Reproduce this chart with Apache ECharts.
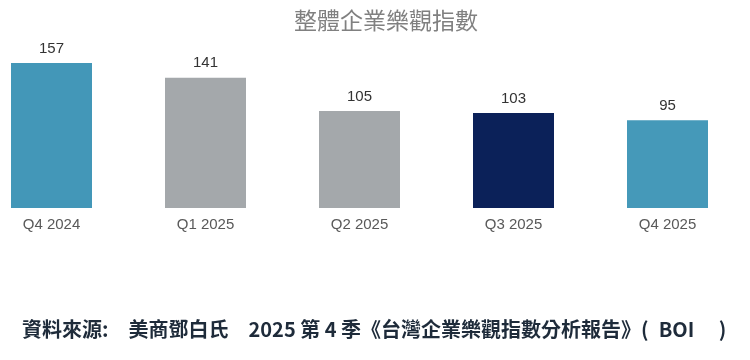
<!DOCTYPE html>
<html><head><meta charset="utf-8">
<script src="https://cdn.jsdelivr.net/npm/echarts@6/dist/echarts.min.js"></script>
<style>html,body{margin:0;padding:0;background:#fff}#c{width:750px;height:360px}</style>
</head><body><div id="c"></div>
<script>
const categories = ['Q4 2024','Q1 2025','Q2 2025','Q3 2025','Q4 2025'];
const values = [157,141,105,103,95];
const barColors = ['#4397b8','#a4a8ab','#a4a8ab','#0b2159','#4599b9'];
const titleText = '整體企業樂觀指數';
const sourceText = '資料來源:\u3000美商鄧白氏\u30002025 第 4 季《台灣企業樂觀指數分析報告》(\u2002BOI\u3000 )';

const chart = echarts.init(document.getElementById('c'));
chart.setOption({
  animation:false,
  title:[
    {text:titleText,left:381,top:4,textAlign:'center',textStyle:{color:'#808080',fontSize:23,fontWeight:'normal',fontFamily:'Noto Sans CJK TC'}},
    {text:sourceText,left:17,top:314,textStyle:{color:'#1e2b3a',fontSize:20,fontWeight:'bold',fontFamily:'Noto Sans CJK TC'}}
  ],
  grid:{left:-25.5,width:770,top:23.3,bottom:152,containLabel:false,outerBoundsMode:'none'},
  xAxis:{type:'category',data:categories,axisLine:{show:false},axisTick:{show:false},
    axisLabel:{color:'#595959',fontSize:15,margin:9,fontFamily:'Liberation Sans'}},
  yAxis:{type:'value',min:0,max:200,show:false,splitLine:{show:false}},
  series:[{type:'bar',barWidth:81,
    data:values.map((v,i)=>({value:v,itemStyle:{color:barColors[i]}})),
    label:{show:true,position:'top',distance:7,color:'#333',fontSize:15,fontFamily:'Liberation Sans'}}]
});
</script></body></html>
